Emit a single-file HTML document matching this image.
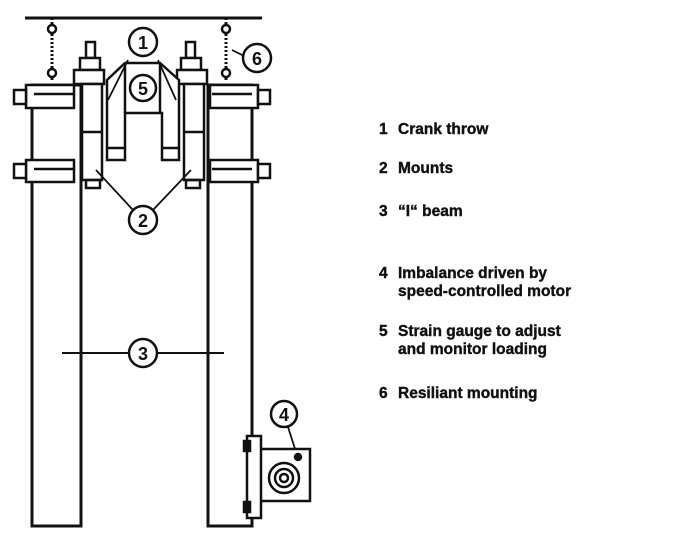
<!DOCTYPE html>
<html><head><meta charset="utf-8"><style>
html,body{margin:0;padding:0;background:#fff;}
svg{display:block}
text{font-family:"Liberation Sans",sans-serif;font-weight:bold;fill:#111}
</style></head><body>
<svg width="700" height="537" viewBox="0 0 700 537">
<g stroke="#111" fill="none" stroke-width="2.5">
<line x1="25" y1="18" x2="262" y2="18" stroke-width="3"/>
<line x1="52" y1="18" x2="52" y2="80" stroke-dasharray="2 2" stroke-width="3"/>
<line x1="226" y1="18" x2="226" y2="80" stroke-dasharray="2 2" stroke-width="3"/>
<circle cx="52" cy="29" r="4" fill="#fff"/><circle cx="52" cy="73" r="4" fill="#fff"/>
<circle cx="226" cy="29" r="4" fill="#fff"/><circle cx="226" cy="73" r="4" fill="#fff"/>
<rect x="32" y="85" width="49" height="441" stroke-width="3"/>
<rect x="208" y="85" width="44" height="441" stroke-width="3"/>
<rect x="26" y="85" width="48" height="23" fill="#fff"/>
<rect x="26" y="160" width="48" height="22" fill="#fff"/>
<rect x="210" y="85" width="48" height="23" fill="#fff"/>
<rect x="210" y="160" width="48" height="22" fill="#fff"/>
<line x1="34" y1="94" x2="74" y2="94"/><line x1="34" y1="169" x2="74" y2="169"/>
<line x1="212" y1="94" x2="252" y2="94"/><line x1="212" y1="169" x2="252" y2="169"/>
<rect x="14" y="90" width="12" height="14" fill="#fff"/><rect x="14" y="164" width="12" height="14" fill="#fff"/>
<rect x="258" y="90" width="12" height="14" fill="#fff"/><rect x="258" y="164" width="12" height="14" fill="#fff"/>
<rect x="86" y="42" width="9" height="16"/><rect x="80" y="58" width="20" height="12" fill="#fff"/>
<rect x="74" y="70" width="30" height="14" fill="#fff"/>
<rect x="82" y="84" width="20" height="96" fill="#fff"/>
<line x1="82" y1="132" x2="102" y2="132"/>
<rect x="86" y="180" width="14" height="8"/>
<rect x="186" y="42" width="9" height="16"/><rect x="181" y="58" width="20" height="12" fill="#fff"/>
<rect x="177" y="70" width="30" height="14" fill="#fff"/>
<rect x="184" y="84" width="20" height="96" fill="#fff"/>
<line x1="184" y1="132" x2="204" y2="132"/>
<rect x="186" y="180" width="14" height="8"/>
<path d="M107 160 V80 L125 63 H160 L179 80 V160 H162 V113 H125 V160 Z" fill="#fff"/>
<line x1="107" y1="148" x2="125" y2="148"/><line x1="162" y1="148" x2="179" y2="148"/>
<line x1="125" y1="63" x2="125" y2="113"/><line x1="160" y1="63" x2="160" y2="113"/>
<line x1="128" y1="60" x2="108" y2="100" stroke-width="1.8"/>
<line x1="158" y1="60" x2="176" y2="100" stroke-width="1.8"/>
<line x1="96" y1="170" x2="133" y2="210" stroke-width="1.8"/>
<line x1="191" y1="170" x2="153" y2="210" stroke-width="1.8"/>
<line x1="232" y1="50" x2="244" y2="56" stroke-width="1.8"/>
<line x1="62" y1="353" x2="224" y2="353" stroke-width="2"/>
<line x1="288" y1="427" x2="297" y2="455" stroke-width="1.8"/>
<rect x="260" y="449" width="50" height="52" fill="#fff"/>
<rect x="247" y="436" width="14" height="82" fill="#fff"/>
<rect x="244" y="441" width="6" height="10" fill="#111"/><rect x="244" y="502" width="6" height="10" fill="#111"/>
<circle cx="284" cy="478" r="15"/><circle cx="284" cy="478" r="9"/><circle cx="284" cy="478" r="4"/>
<circle cx="298" cy="457" r="3" fill="#111"/>
<g fill="#fff" stroke-width="2.5">
<circle cx="143" cy="42" r="14"/><circle cx="143" cy="88" r="13"/>
<circle cx="257" cy="58" r="14"/><circle cx="143" cy="220" r="14"/>
<circle cx="143" cy="353" r="14"/><circle cx="284" cy="414" r="13"/>
</g>
</g>
<g font-size="18" text-anchor="middle">
<text x="143" y="49">1</text><text x="143" y="95">5</text><text x="257" y="65">6</text>
<text x="143" y="227">2</text><text x="143" y="360">3</text><text x="284" y="421">4</text>
</g>
<g font-size="15.5" stroke="#111" stroke-width="0.4">
<text x="379" y="134">1</text><text x="398" y="134">Crank throw</text>
<text x="379" y="173">2</text><text x="398" y="173">Mounts</text>
<text x="379" y="216">3</text><text x="398" y="216">“I“ beam</text>
<text x="379" y="278">4</text><text x="398" y="278">Imbalance driven by</text>
<text x="398" y="296">speed-controlled motor</text>
<text x="379" y="336">5</text><text x="398" y="336">Strain gauge to adjust</text>
<text x="398" y="354">and monitor loading</text>
<text x="379" y="398">6</text><text x="398" y="398">Resiliant mounting</text>
</g>
</svg>
</body></html>
